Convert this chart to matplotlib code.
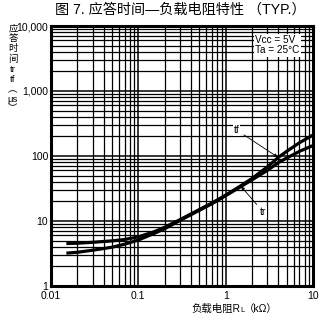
import matplotlib
matplotlib.use("Agg")
import matplotlib.pyplot as plt
from matplotlib.ticker import LogLocator, FixedLocator, NullFormatter

plt.rcParams['font.family'] = ['Liberation Sans', 'Noto Sans CJK SC', 'DejaVu Sans']

# Data
rl = [0.015, 0.02, 0.03, 0.05, 0.07, 0.1, 0.15, 0.2, 0.3, 0.5, 0.7, 1, 1.5, 2, 3, 4, 5, 7, 10]
tf = [4.5, 4.55, 4.7, 4.95, 5.2, 5.7, 6.8, 8.0, 10.5, 15, 19, 25, 35, 45, 68, 95, 118, 160, 210]
tr = [3.2, 3.3, 3.55, 3.95, 4.4, 5.1, 6.4, 7.6, 10.2, 14.6, 18.5, 24.5, 34, 43, 60, 79, 93, 118, 145]

x_ticks = [0.01, 0.1, 1, 10]
x_tick_labels = ["0.01", "0.1", "1", "10"]
y_ticks = [1, 10, 100, 1000, 10000]
y_tick_labels = ["1", "10", "100", "1,000", "10,000"]

title = "图 7. 应答时间—负载电阻特性 （TYP.）"
ylabel_chars = ["应", "答", "时", "间", "tr", "tf", "︵", "μs", "︶"]
xlabel_parts = ["负载电阻R", "L", "（kΩ）"]
cond_text = "Vcc = 5V\nTa = 25°C"

fig = plt.figure(figsize=(3.25, 3.16), dpi=100)
ax = fig.add_axes([51/325, 30/316, 262/325, 260/316])
ax.set_xscale('log')
ax.set_yscale('log')
ax.set_xlim(0.01, 10)
ax.set_ylim(1, 10000)

ax.xaxis.set_major_locator(FixedLocator(x_ticks))
ax.set_xticklabels(x_tick_labels)
ax.yaxis.set_major_locator(FixedLocator(y_ticks))
ax.set_yticklabels(y_tick_labels)
ax.xaxis.set_minor_locator(LogLocator(base=10, subs=range(2, 10)))
ax.yaxis.set_minor_locator(LogLocator(base=10, subs=range(2, 10)))
ax.xaxis.set_minor_formatter(NullFormatter())
ax.yaxis.set_minor_formatter(NullFormatter())
ax.tick_params(which='both', length=0, labelsize=7.5, pad=2, colors='black')
ax.tick_params(axis='x', pad=3.5)

ax.grid(True, which='major', color='black', linewidth=1.1)
ax.grid(True, which='minor', color='black', linewidth=0.9)
for s in ax.spines.values():
    s.set_linewidth(2.2)
    s.set_color('black')

ax.plot(rl, tf, color='black', linewidth=2.3, solid_capstyle='butt', zorder=3)
ax.plot(rl, tr, color='black', linewidth=2.3, solid_capstyle='butt', zorder=3)

ax.annotate("tf", xy=(3.95, 96), xytext=(1.34, 250), fontsize=7.5,
            ha='center', va='center',
            arrowprops=dict(arrowstyle='-|>', color='black', lw=0.6,
                            mutation_scale=5, shrinkA=3, shrinkB=0),
            bbox=dict(facecolor='white', edgecolor='none', pad=0.5), zorder=5)
ax.annotate("tr", xy=(1.5, 34), xytext=(2.7, 13.7), fontsize=7.5,
            ha='center', va='center',
            arrowprops=dict(arrowstyle='-|>', color='black', lw=0.6,
                            mutation_scale=5, shrinkA=3, shrinkB=0),
            bbox=dict(facecolor='white', edgecolor='none', pad=0.5), zorder=5)

ax.text(0.78, 0.965, cond_text, transform=ax.transAxes, fontsize=7.2,
        ha='left', va='top', linespacing=1.05,
        bbox=dict(facecolor='white', edgecolor='none', pad=0.8), zorder=5)

fig.text(180/325, 0.968, title, fontsize=10.2, ha='center', va='center')

# vertical (stacked) y label, one glyph group per line
label_y_px = [29, 39, 49, 59, 70, 80, 90, 100, 109]
for ch, ypx in zip(ylabel_chars, label_y_px):
    fig.text(13/325, 1 - ypx/316, ch, fontsize=6.8, ha='center', va='center',
             rotation=0)

# x label built from pieces, right aligned at x=278 px
renderer = fig.canvas.get_renderer()
xr = 278.0
yb = 316 - 312.0
sizes = [7.5, 5.5, 7.5]
for part, fs in zip(reversed(xlabel_parts), reversed(sizes)):
    t = fig.text(xr / 325, yb / 316, part, fontsize=fs, ha='right', va='baseline')
    bb = t.get_window_extent(renderer=renderer)
    xr -= bb.width

fig.savefig("out.png", dpi=100)
